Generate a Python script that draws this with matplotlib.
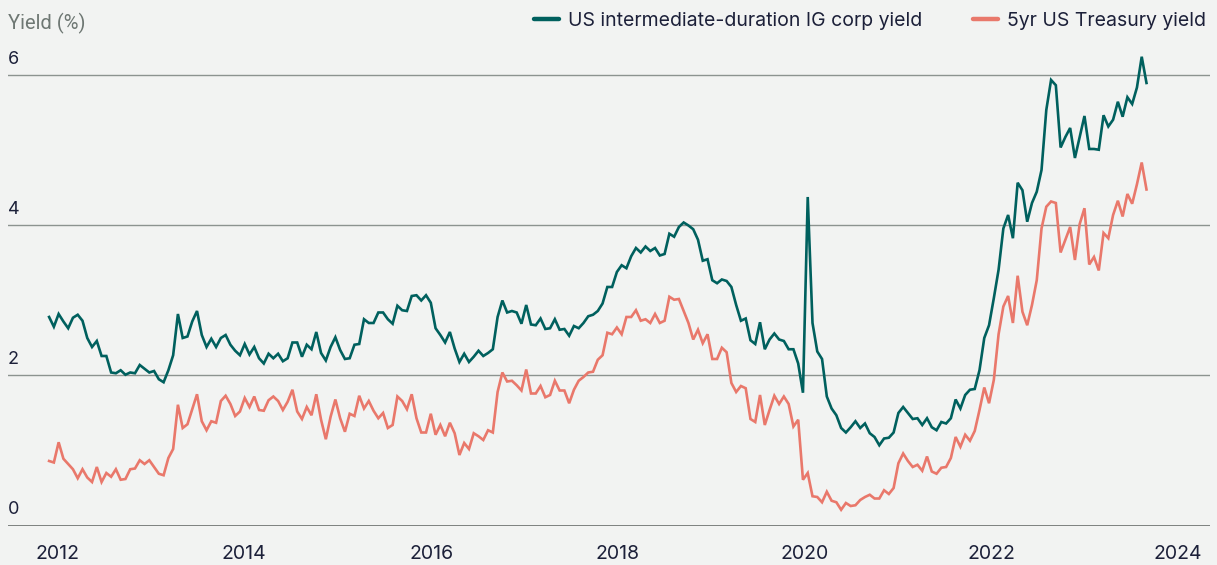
import matplotlib
matplotlib.use("Agg")
import matplotlib.pyplot as plt
import numpy as np
from matplotlib.lines import Line2D

# ── palette ──────────────────────────────────────────────────────────────────
BG = "#F2F3F2"
TEAL = "#00605E"
CORAL = "#E9786B"
INK = "#1C2039"
GREY_TX = "#6E7773"
GRID = "#8C9390"
AXIS = "#5B605E"

plt.rcParams["font.family"] = ["Inter", "DejaVu Sans"]

FIRST_OBS, LAST_OBS = 2011.91, 2023.66

ig_corp = [
    2.78, 2.65, 2.82, 2.72, 2.63, 2.77, 2.81, 2.73, 2.50, 2.38,
    2.46, 2.26, 2.26, 2.04, 2.03, 2.07, 2.01, 2.04, 2.03, 2.14,
    2.09, 2.04, 2.06, 1.95, 1.91, 2.07, 2.27, 2.82, 2.50, 2.52,
    2.72, 2.86, 2.54, 2.38, 2.49, 2.38, 2.50, 2.54, 2.41, 2.33, 2.27,
    2.42, 2.28, 2.38, 2.23, 2.16, 2.29, 2.23, 2.29, 2.19, 2.23,
    2.44, 2.44, 2.25, 2.41, 2.35, 2.58, 2.30, 2.20, 2.38, 2.51,
    2.34, 2.22, 2.23, 2.41, 2.42, 2.75, 2.70, 2.70, 2.84, 2.84,
    2.75, 2.69, 2.93, 2.87, 2.86, 3.06, 3.07, 3.00, 3.07,
    2.97, 2.63, 2.54, 2.44, 2.58, 2.36, 2.18, 2.29, 2.18, 2.25,
    2.33, 2.26, 2.30, 2.35, 2.78, 3.00, 2.84, 2.86, 2.84, 2.69,
    2.94, 2.68, 2.67, 2.76, 2.62, 2.63, 2.75, 2.61, 2.62, 2.53,
    2.66, 2.63, 2.70, 2.79, 2.81, 2.86, 2.96, 3.18, 3.18,
    3.38, 3.47, 3.43, 3.59, 3.70, 3.64, 3.72, 3.66, 3.70, 3.60,
    3.62, 3.89, 3.85, 3.98, 4.04, 4.00, 3.95, 3.81, 3.53, 3.55,
    3.27, 3.23, 3.28, 3.26, 3.18, 2.94, 2.73, 2.76, 2.47, 2.42,
    2.71, 2.35, 2.48, 2.56, 2.48, 2.46, 2.35, 2.35,
    2.16, 1.77, 4.38, 2.70, 2.32, 2.22, 1.72, 1.56, 1.47, 1.30,
    1.24, 1.31, 1.39, 1.30, 1.36, 1.23, 1.18, 1.07, 1.16, 1.17,
    1.24, 1.50, 1.58, 1.50, 1.42, 1.43, 1.34, 1.43, 1.31, 1.27,
    1.38, 1.36, 1.43, 1.68, 1.56, 1.74, 1.81, 1.82, 2.07,
    2.50, 2.67, 3.03, 3.41, 3.96, 4.14, 3.83, 4.57, 4.47, 4.05,
    4.30, 4.45, 4.74, 5.54, 5.94, 5.87, 5.04, 5.18, 5.30, 4.90,
    5.18, 5.46, 5.02, 5.02, 5.01, 5.47, 5.32, 5.41, 5.65, 5.45,
    5.71, 5.62, 5.84, 6.25, 5.90,
]

ust_5y = [
    0.86, 0.84, 1.11, 0.89, 0.82, 0.75, 0.63, 0.75, 0.64, 0.58,
    0.78, 0.58, 0.70, 0.65, 0.75, 0.61, 0.62, 0.75, 0.76, 0.87,
    0.82, 0.87, 0.78, 0.69, 0.67, 0.90, 1.02, 1.61, 1.30, 1.35,
    1.55, 1.75, 1.39, 1.27, 1.39, 1.37, 1.66, 1.73, 1.62, 1.46, 1.52,
    1.70, 1.58, 1.72, 1.54, 1.53, 1.67, 1.72, 1.66, 1.54, 1.65,
    1.81, 1.52, 1.42, 1.58, 1.47, 1.75, 1.41, 1.15, 1.45, 1.68,
    1.43, 1.25, 1.49, 1.46, 1.73, 1.56, 1.66, 1.53, 1.43, 1.50,
    1.30, 1.34, 1.72, 1.66, 1.55, 1.75, 1.43, 1.24, 1.24,
    1.49, 1.21, 1.34, 1.19, 1.37, 1.23, 0.94, 1.10, 1.02, 1.23,
    1.19, 1.14, 1.27, 1.24, 1.78, 2.04, 1.92, 1.93, 1.87, 1.80,
    2.08, 1.76, 1.76, 1.86, 1.71, 1.74, 1.93, 1.80, 1.80, 1.63,
    1.81, 1.93, 1.98, 2.04, 2.05, 2.21, 2.27, 2.57, 2.55,
    2.64, 2.55, 2.78, 2.78, 2.87, 2.73, 2.75, 2.70, 2.82, 2.70,
    2.73, 3.05, 3.01, 3.02, 2.86, 2.70, 2.48, 2.61, 2.43, 2.55,
    2.22, 2.22, 2.37, 2.31, 1.90, 1.78, 1.86, 1.83, 1.42, 1.38,
    1.74, 1.34, 1.54, 1.73, 1.62, 1.72, 1.62, 1.32,
    1.41, 0.61, 0.70, 0.39, 0.38, 0.31, 0.45, 0.33, 0.31, 0.21,
    0.30, 0.26, 0.27, 0.34, 0.38, 0.41, 0.36, 0.36, 0.47, 0.42,
    0.50, 0.83, 0.96, 0.86, 0.78, 0.81, 0.73, 0.92, 0.72, 0.69,
    0.77, 0.78, 0.90, 1.18, 1.05, 1.21, 1.13, 1.26, 1.54,
    1.84, 1.63, 1.94, 2.55, 2.92, 3.06, 2.70, 3.33, 2.85, 2.67,
    2.94, 3.27, 3.96, 4.25, 4.32, 4.30, 3.64, 3.81, 3.98, 3.54,
    4.02, 4.23, 3.48, 3.58, 3.40, 3.90, 3.83, 4.14, 4.33, 4.12,
    4.42, 4.29, 4.55, 4.84, 4.48,
]

series = [
    ("US intermediate-duration IG corp yield", ig_corp, TEAL),
    ("5yr US Treasury yield", ust_5y, CORAL),
]
x_ticks = [2012, 2014, 2016, 2018, 2020, 2022, 2024]
y_ticks = [0, 2, 4, 6]

W, H = 1217, 565
fig = plt.figure(figsize=(W / 100, H / 100), dpi=100, facecolor=BG)
ax = fig.add_axes([8 / W, 39.5 / H, 1202 / W, 485.5 / H])
ax.set_facecolor(BG)
ax.set_xlim(2011.47, 2024.34)
ax.set_ylim(0, 6.473)

for v in y_ticks:
    if v == 0:
        ax.axhline(v, color=AXIS, lw=1.8, zorder=1)
    else:
        ax.axhline(v, color=GRID, lw=1.0, zorder=1)
    ax.annotate(str(v), xy=(0, v), xycoords=("axes fraction", "data"),
                xytext=(0, 5.5), textcoords="offset points",
                ha="left", va="bottom", fontsize=13, color=INK)

for label, vals, color in series:
    xs = np.linspace(FIRST_OBS, LAST_OBS, len(vals))
    ax.plot(xs, vals, color=color, lw=1.9, solid_joinstyle="miter", zorder=3)

for s in ax.spines.values():
    s.set_visible(False)
ax.set_yticks([])
ax.set_xticks(x_ticks)
ax.set_xticklabels([str(t) for t in x_ticks])
ax.tick_params(axis="x", length=0, pad=14, labelsize=14, labelcolor=INK)

fig.text(8 / W, 1 - 23 / H, "Yield (%)", fontsize=14.5, color=GREY_TX,
         family=["Roboto", "DejaVu Sans"], ha="left", va="center")

handles = [Line2D([], [], color=c, lw=3.2, solid_capstyle="round") for _, _, c in series]
ax.legend(handles, [s[0] for s in series], ncol=2, loc="center right",
          bbox_to_anchor=(1206 / W, 1 - 21 / H), bbox_transform=fig.transFigure,
          frameon=False, fontsize=14, handlelength=1.3, handletextpad=0.45,
          columnspacing=2.6, labelcolor=INK, borderaxespad=0, borderpad=0)

fig.savefig("out.png", dpi=100, facecolor=BG)
